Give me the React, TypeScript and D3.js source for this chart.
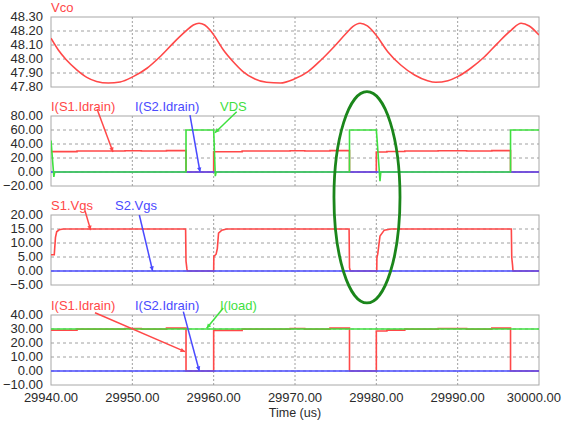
import React from 'react';
import * as d3 from 'd3';

// ---------- data ----------
const timeTicks = [29940, 29950, 29960, 29970, 29980, 29990, 30000];

const vcoTicks = [47.8, 47.9, 48.0, 48.1, 48.2, 48.3];
const idTicks = [-20, 0, 20, 40, 60, 80];
const vgsTicks = [-5, 0, 5, 10, 15, 20];
const loadTicks = [-10, 0, 10, 20, 30, 40];

const vcoT = [29940, 29940.9, 29941.9, 29943.2, 29944.4, 29945.6, 29947.05, 29948.5, 29950.1, 29951.8, 29953.4, 29955.0, 29956.5, 29957.5, 29958.2, 29958.9, 29959.55, 29960.1, 29961.2, 29962.4, 29963.6, 29964.9, 29966.5, 29968.2, 29969.9, 29971.6, 29973.2, 29974.8, 29976.3, 29977.1, 29978.0, 29978.9, 29979.96, 29981.4, 29983.0, 29984.7, 29986.3, 29987.3, 29988.8, 29990.0, 29991.6, 29993.3, 29994.9, 29996.6, 29997.8, 29998.8, 30000];
const vcoV = [48.148, 48.064, 47.993, 47.921, 47.869, 47.84, 47.829, 47.836, 47.874, 47.934, 48.016, 48.112, 48.195, 48.243, 48.255, 48.243, 48.207, 48.164, 48.064, 47.98, 47.91, 47.862, 47.834, 47.829, 47.857, 47.91, 47.993, 48.088, 48.184, 48.231, 48.255, 48.236, 48.171, 48.052, 47.957, 47.886, 47.845, 47.834, 47.845, 47.874, 47.934, 48.016, 48.112, 48.207, 48.255, 48.236, 48.171];

const s1IdT = [29940, 29943.2, 29943.2, 29949.1, 29949.1, 29951.1, 29951.1, 29954.2, 29954.2, 29956.6, 29956.6, 29960, 29960, 29963.5, 29963.5, 29969.4, 29969.4, 29971.2, 29971.2, 29974.3, 29974.3, 29976.7, 29976.7, 29980, 29980, 29981.3, 29981.3, 29983.5, 29983.5, 29987.6, 29987.6, 29991.1, 29991.1, 29994.2, 29994.2, 29996.5, 29996.5, 30000];
const s1IdV = [29.1, 29.1, 29.9, 29.9, 30.4, 30.4, 29.9, 29.9, 30.6, 30.6, 0, 0, 29.0, 29.0, 29.9, 29.9, 30.4, 30.4, 29.9, 29.9, 30.6, 30.6, 0, 0, 28.6, 28.6, 29.2, 29.2, 29.9, 29.9, 30.4, 30.4, 29.9, 29.9, 30.6, 30.6, 0, 0];

const s2IdT = [29940, 30000];
const s2IdV = [0, 0];

const vdsT = [29940, 29940.35, 29940.45, 29956.6, 29956.6, 29960, 29960.2, 29960.3, 29976.7, 29976.7, 29980, 29980.1, 29980.45, 29980.55, 29996.5, 29996.5, 30000];
const vdsV = [45, -7, 0, 0, 60, 60, -6, 0, 0, 60, 60, 45, -13, 0, 0, 60, 60];

const s1VgsT = [29940, 29940.4, 29940.55, 29940.7, 29941, 29941.5, 29956.55, 29956.6, 29956.7, 29956.75, 29960, 29960.02, 29960.3, 29960.45, 29960.6, 29961, 29961.6, 29976.65, 29976.7, 29976.8, 29980.05, 29980.07, 29980.17, 29980.45, 29980.98, 29981.8, 29996.6, 29996.65, 29996.75, 29996.8, 30000];
const s1VgsV = [5.8, 5.8, 12, 14, 14.7, 15, 15, 3.5, 1, 0, 0, 5.2, 6, 8, 13.5, 14.6, 15, 15, 1.2, 0, 0, 4.8, 6, 12.5, 14.6, 15, 15, 4.8, 2, 0, 0];

const s2VgsT = [29940, 30000];
const s2VgsV = [0, 0];

const loadT = [29940, 30000];
const loadV = [30, 30];

// ---------- styles ----------
const RED = '#ff4848';
const BLUE = '#4a4aff';
const GREEN = '#3fe03f';
const DARKGREEN = '#1b861b';
const FONT = '"Liberation Sans", Arial, sans-serif';

const LEFT = 51, RIGHT = 539, PH = 70;
const panelTops = [17, 116, 215, 315];

const x = d3.scaleLinear().domain([29940, 30000]).range([LEFT, RIGHT]);
const fmt = d3.format('.2f');

type Series = { t: number[]; v: number[]; color: string; smooth?: boolean; w?: number };
type Label = { text: string; color: string; x: number };
type Arrow = { t0: number; v0: number; t1: number; v1: number; color: string };

const panels: { ticks: number[]; series: Series[]; labels: Label[]; arrows: Arrow[] }[] = [
  {
    ticks: vcoTicks,
    series: [{ t: vcoT, v: vcoV, color: RED, smooth: true }],
    labels: [{ text: 'Vco', color: RED, x: 51 }],
    arrows: [],
  },
  {
    ticks: idTicks,
    series: [
      { t: s1IdT, v: s1IdV, color: RED },
      { t: s2IdT, v: s2IdV, color: BLUE },
      { t: vdsT, v: vdsV, color: GREEN },
    ],
    labels: [
      { text: 'I(S1.Idrain)', color: RED, x: 51 },
      { text: 'I(S2.Idrain)', color: BLUE, x: 135 },
      { text: 'VDS', color: GREEN, x: 220 },
    ],
    arrows: [
      { t0: 29945.66, v0: 90, t1: 29947.62, v1: 28.6, color: RED },
      { t0: 29957.09, v0: 81.4, t1: 29958.32, v1: 0, color: BLUE },
      { t0: 29962.83, v0: 86.1, t1: 29960.16, v1: 56.1, color: GREEN },
    ],
  },
  {
    ticks: vgsTicks,
    series: [
      { t: s1VgsT, v: s1VgsV, color: RED },
      { t: s2VgsT, v: s2VgsV, color: BLUE },
    ],
    labels: [
      { text: 'S1.Vgs', color: RED, x: 51 },
      { text: 'S2.Vgs', color: BLUE, x: 115 },
    ],
    arrows: [
      { t0: 29944.18, v0: 21.5, t1: 29944.88, v1: 14.6, color: RED },
      { t0: 29950.86, v0: 20, t1: 29952.5, v1: 0, color: BLUE },
    ],
  },
  {
    ticks: loadTicks,
    series: [
      { t: s1IdT, v: s1IdV, color: RED },
      { t: s2IdT, v: s2IdV, color: BLUE },
      { t: loadT, v: loadV, color: GREEN },
    ],
    labels: [
      { text: 'I(S1.Idrain)', color: RED, x: 51 },
      { text: 'I(S2.Idrain)', color: BLUE, x: 135 },
      { text: 'I(load)', color: GREEN, x: 220 },
    ],
    arrows: [
      { t0: 29945.41, v0: 41.6, t1: 29956.48, v1: 13.8, color: RED },
      { t0: 29956.27, v0: 42.4, t1: 29958.23, v1: 0, color: BLUE },
      { t0: 29961.18, v0: 45, t1: 29959.14, v1: 30.5, color: GREEN },
    ],
  },
];

// ellipse annotation (time centre / half width, top value in panel 2, bottom value in panel 4)
const ellipseT = 29978.85;
const ellipseHalfT = 4.06;
const ellipseTopV = 114.7;
const ellipseBottomV = 48.6;

function Panel({ idx }: { idx: number }) {
  const p = panels[idx];
  const top = panelTops[idx];
  const lo = p.ticks[0], hi = p.ticks[p.ticks.length - 1];
  const y = d3.scaleLinear().domain([lo, hi]).range([top + PH, top]);
  const clipId = `clip${idx}`;
  return (
    <g>
      <defs>
        <clipPath id={clipId}>
          <rect x={LEFT} y={top} width={RIGHT - LEFT} height={PH} />
        </clipPath>
      </defs>
      <rect x={LEFT} y={top} width={RIGHT - LEFT} height={PH} fill="#fff" stroke="#a8a8a8" strokeWidth={1} />
      {p.ticks.slice(1, -1).map((tk) => (
        <line key={'h' + tk} x1={LEFT} x2={RIGHT} y1={y(tk)} y2={y(tk)} stroke="#a0a0a0" strokeWidth={1} strokeDasharray="3,3" />
      ))}
      {timeTicks.slice(1, -1).map((tk) => (
        <line key={'v' + tk} x1={x(tk)} x2={x(tk)} y1={top} y2={top + PH} stroke="#a0a0a0" strokeWidth={1} strokeDasharray="2,2" />
      ))}
      {p.ticks.map((tk) => (
        <text key={'l' + tk} x={43} y={y(tk) + 4.4} textAnchor="end" fontSize={13} fill="#2a2a2a">
          {fmt(tk)}
        </text>
      ))}
      <g clipPath={`url(#${clipId})`}>
        {p.series.map((s, i) => {
          const line = d3
            .line<number>()
            .x((_, j) => x(s.t[j]))
            .y((v) => y(v))
            .curve(s.smooth ? d3.curveMonotoneX : d3.curveLinear);
          return <path key={i} d={line(s.v) || ''} fill="none" stroke={s.color} strokeWidth={s.w ?? 1.6} />;
        })}
      </g>
      {p.labels.map((l) => (
        <text key={l.text + l.x} x={l.x} y={top - 5} fontSize={13} fill={l.color}>
          {l.text}
        </text>
      ))}
      {p.arrows.map((a, i) => {
        const x0 = x(a.t0), y0 = y(a.v0), x1 = x(a.t1), y1 = y(a.v1);
        const ang = Math.atan2(y1 - y0, x1 - x0);
        const L = 5, A = 0.45;
        const hx1 = x1 - L * Math.cos(ang - A), hy1 = y1 - L * Math.sin(ang - A);
        const hx2 = x1 - L * Math.cos(ang + A), hy2 = y1 - L * Math.sin(ang + A);
        return (
          <g key={'a' + i}>
            <line x1={x0} y1={y0} x2={x1} y2={y1} stroke={a.color} strokeWidth={1.5} />
            <path d={`M${x1},${y1}L${hx1},${hy1}L${hx2},${hy2}Z`} fill={a.color} />
          </g>
        );
      })}
    </g>
  );
}

export default function App() {
  const y2 = d3.scaleLinear().domain([idTicks[0], idTicks[idTicks.length - 1]]).range([panelTops[1] + PH, panelTops[1]]);
  const y4 = d3.scaleLinear().domain([loadTicks[0], loadTicks[loadTicks.length - 1]]).range([panelTops[3] + PH, panelTops[3]]);
  const eTop = y2(ellipseTopV);
  const eBot = y4(ellipseBottomV);
  const cx = x(ellipseT);
  const rx = x(ellipseT + ellipseHalfT) - cx;
  const lastTick = timeTicks[timeTicks.length - 1];
  return (
    <svg
      width={562}
      height={422}
      style={{ position: 'absolute', left: 0, top: 0, background: '#fff' }}
      fontFamily={FONT}
    >
      <rect x={0} y={0} width={562} height={422} fill="#fff" />
      {panels.map((_, i) => (
        <Panel key={i} idx={i} />
      ))}
      {timeTicks.map((tk) => {
        const isLast = tk === lastTick;
        return (
          <text
            key={tk}
            x={isLast ? 561 : x(tk)}
            y={402}
            textAnchor={isLast ? 'end' : 'middle'}
            fontSize={13}
            fill="#2a2a2a"
          >
            {fmt(tk)}
          </text>
        );
      })}
      <text x={(LEFT + RIGHT) / 2} y={416.5} textAnchor="middle" fontSize={12.5} fill="#2a2a2a">
        Time  (us)
      </text>
      <ellipse cx={cx} cy={(eTop + eBot) / 2} rx={rx} ry={(eBot - eTop) / 2} fill="none" stroke={DARKGREEN} strokeWidth={2.8} />
    </svg>
  );
}
